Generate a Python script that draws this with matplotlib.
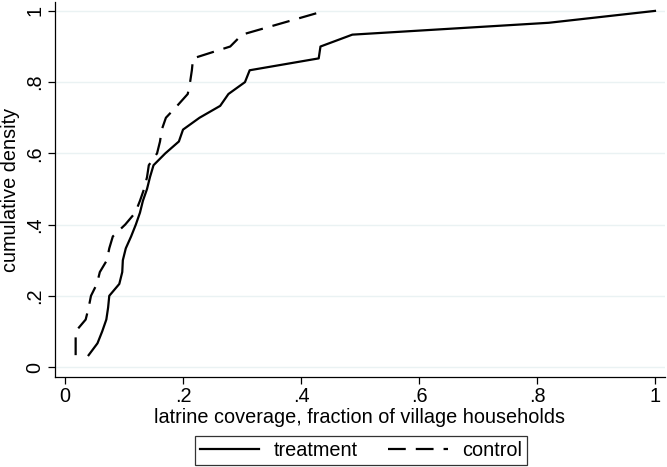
import matplotlib
matplotlib.use("Agg")
import matplotlib.pyplot as plt
import numpy as np

plt.rcParams['font.family'] = ['Liberation Sans', 'DejaVu Sans']

# cumulative density (k/30) vs latrine coverage
treat_x = [0.040, 0.055, 0.063, 0.070, 0.073, 0.075, 0.092, 0.097, 0.098, 0.103,
           0.112, 0.120, 0.127, 0.132, 0.139, 0.144, 0.150, 0.170, 0.193, 0.200,
           0.228, 0.263, 0.277, 0.305, 0.313, 0.430, 0.433, 0.487, 0.820, 1.000]
control_x = [0.018, 0.018, 0.018, 0.035, 0.040, 0.044, 0.054, 0.059, 0.071, 0.075,
             0.081, 0.102, 0.119, 0.127, 0.134, 0.139, 0.142, 0.156, 0.161, 0.164,
             0.171, 0.190, 0.208, 0.212, 0.215, 0.217, 0.280, 0.300, 0.370, 0.440]
treat_y = [k / 30 for k in range(1, 31)]
control_y = [k / 30 for k in range(1, 31)]

xticks = [0, 0.2, 0.4, 0.6, 0.8, 1.0]
xticklabels = ["0", ".2", ".4", ".6", ".8", "1"]
yticks = [0, 0.2, 0.4, 0.6, 0.8, 1.0]
yticklabels = ["0", ".2", ".4", ".6", ".8", "1"]

FS = 14.3

fig = plt.figure(figsize=(6.67, 4.67), dpi=100)
ax = fig.add_axes([55/667, 1 - 377/467, 610/667, 375/467])

ax.plot(treat_x, treat_y, color='black', lw=1.6, solid_joinstyle='round',
        label='treatment')
ax.plot(control_x, control_y, color='black', lw=1.6, dashes=(8, 4.5),
        label='control')

ax.set_xlim(-0.017, 1.017)
ax.set_ylim(-0.028, 1.025)
ax.set_xticks(xticks)
ax.set_xticklabels(xticklabels)
ax.set_yticks(yticks)
ax.set_yticklabels(yticklabels, rotation=90, va='center')
ax.grid(axis='y', color='#eaf2f3', lw=1.0)
ax.set_axisbelow(True)
for s in ['top', 'right']:
    ax.spines[s].set_visible(False)
for s in ['left', 'bottom']:
    ax.spines[s].set_linewidth(0.9)
ax.tick_params(axis='both', direction='out', length=5, width=0.9,
               labelsize=FS, colors='black', pad=2.5)
ax.set_xlabel('latrine coverage, fraction of village households', fontsize=FS,
              labelpad=1)
ax.set_ylabel('cumulative density', fontsize=FS, labelpad=4)

leg = ax.legend(loc='lower center', bbox_to_anchor=(361/667, 2/467),
                bbox_transform=fig.transFigure, borderaxespad=0, ncol=2,
                frameon=True, fancybox=False, edgecolor='black', fontsize=FS,
                handlelength=3.0, columnspacing=1.5, borderpad=0.25,
                handletextpad=0.75)
leg.get_frame().set_linewidth(0.9)

fig.savefig('out.png', dpi=100)
